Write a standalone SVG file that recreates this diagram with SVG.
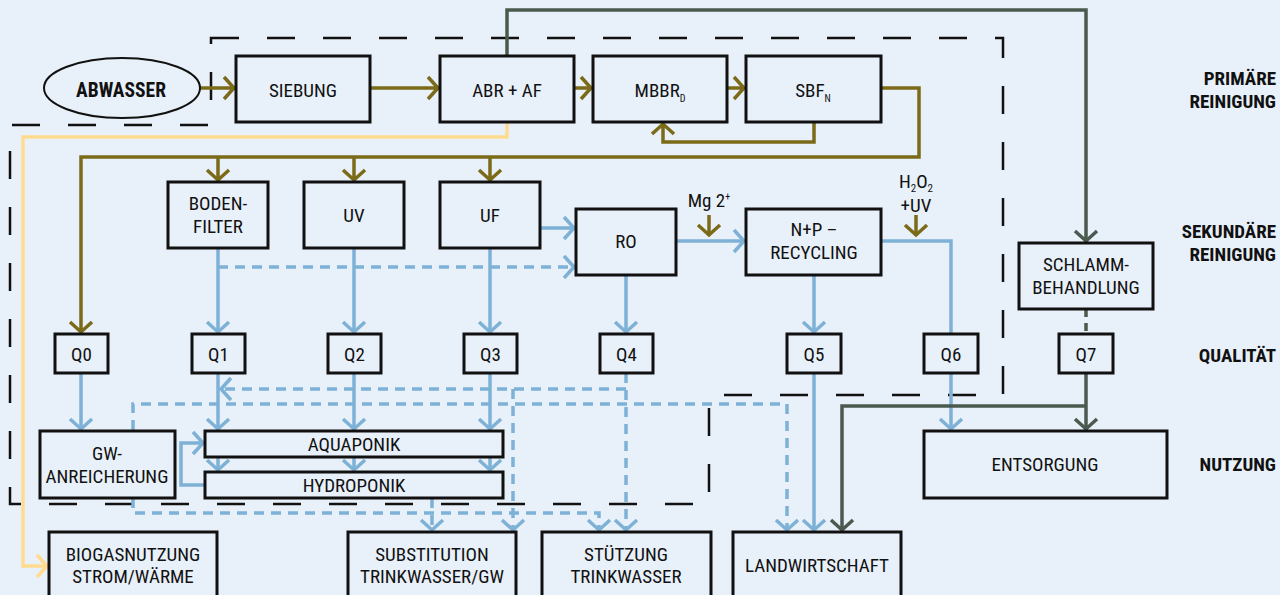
<svg xmlns="http://www.w3.org/2000/svg" width="1280" height="595" viewBox="0 0 1280 595">
<style>
text{font-family:"Roboto Condensed","Roboto","Liberation Sans",sans-serif;font-stretch:condensed;font-size:19px;fill:#111;text-anchor:middle}
.b{font-weight:bold;font-size:19.5px;font-stretch:semi-condensed}
.lbl{font-weight:bold;text-anchor:end;font-size:19px;font-stretch:semi-condensed}
.box{fill:#e8f0f9;stroke:#111;stroke-width:3}
.ol{fill:none;stroke:#7b6a18;stroke-width:3.5}
.bl{fill:none;stroke:#7eb1d6;stroke-width:3.5}
.bld{fill:none;stroke:#7eb1d6;stroke-width:3.5;stroke-dasharray:10 7}
.gr{fill:none;stroke:#4b5a4f;stroke-width:3.5}
.ye{fill:none;stroke:#ffda8f;stroke-width:3.5}
.bnd{fill:none;stroke:#111;stroke-width:2.5;stroke-dasharray:28 28}
</style>
<defs>
<marker id="aO" markerUnits="userSpaceOnUse" markerWidth="30" markerHeight="30" viewBox="-15 -15 30 30" refX="0" refY="0" orient="auto"><path d="M-11,-11 L-1,0 L-11,11" fill="none" stroke="#7b6a18" stroke-width="3.5"/></marker>
<marker id="aB" markerUnits="userSpaceOnUse" markerWidth="30" markerHeight="30" viewBox="-15 -15 30 30" refX="0" refY="0" orient="auto"><path d="M-11,-11 L-1,0 L-11,11" fill="none" stroke="#7eb1d6" stroke-width="3.5"/></marker>
<marker id="aG" markerUnits="userSpaceOnUse" markerWidth="30" markerHeight="30" viewBox="-15 -15 30 30" refX="0" refY="0" orient="auto"><path d="M-11,-11 L-1,0 L-11,11" fill="none" stroke="#4b5a4f" stroke-width="3.5"/></marker>
<marker id="aY" markerUnits="userSpaceOnUse" markerWidth="30" markerHeight="30" viewBox="-15 -15 30 30" refX="0" refY="0" orient="auto"><path d="M-11,-11 L-1,0 L-11,11" fill="none" stroke="#ffda8f" stroke-width="3.5"/></marker>
</defs>
<rect width="1280" height="595" fill="#e8f0f9"/>
<path class="bnd" d="M211,38 H1003 V395 H709 V504 H10 V125 H211 Z"/>
<g id="connectors">
<path class="ye" d="M507,122 V137 H23 V566 H48" marker-end="url(#aY)"/>
<path class="gr" d="M507,56 V10 H1086 V242" marker-end="url(#aG)"/>
<path class="ol" d="M200,88 H235" marker-end="url(#aO)"/>
<path class="ol" d="M370,88 H439" marker-end="url(#aO)"/>
<path class="ol" d="M574,88 H592" marker-end="url(#aO)"/>
<path class="ol" d="M727,88 H745" marker-end="url(#aO)"/>
<path class="ol" d="M814,122 V142 H663 V123" marker-end="url(#aO)"/>
<path class="ol" d="M881,88 H919 V157 H81 V333" marker-end="url(#aO)"/>
<path class="ol" d="M218,157 V181" marker-end="url(#aO)"/>
<path class="ol" d="M354,157 V181" marker-end="url(#aO)"/>
<path class="ol" d="M490,157 V181" marker-end="url(#aO)"/>
<path class="ol" d="M709,215 V236" marker-end="url(#aO)"/>
<path class="ol" d="M916,215 V236" marker-end="url(#aO)"/>
<path class="bl" d="M218,248 V333" marker-end="url(#aB)"/>
<path class="bl" d="M354,248 V333" marker-end="url(#aB)"/>
<path class="bl" d="M490,248 V333" marker-end="url(#aB)"/>
<path class="bl" d="M540,228 H575" marker-end="url(#aB)"/>
<path class="bld" d="M218,267 H575" marker-end="url(#aB)"/>
<path class="bl" d="M626,275 V333" marker-end="url(#aB)"/>
<path class="bl" d="M676,241 H745" marker-end="url(#aB)"/>
<path class="bl" d="M814,275 V333" marker-end="url(#aB)"/>
<path class="bl" d="M881,241 H951 V334"/>
<path class="bl" d="M81,373 V430" marker-end="url(#aB)"/>
<path class="bl" d="M218,373 V430" marker-end="url(#aB)"/>
<path class="bl" d="M354,373 V430" marker-end="url(#aB)"/>
<path class="bl" d="M490,373 V430" marker-end="url(#aB)"/>
<path class="bl" d="M218,457 V471" marker-end="url(#aB)"/>
<path class="bl" d="M354,457 V471" marker-end="url(#aB)"/>
<path class="bl" d="M490,457 V471" marker-end="url(#aB)"/>
<path class="bl" d="M205,485 H181 V443 H204" marker-end="url(#aB)"/>
<path class="bl" d="M814,373 V531" marker-end="url(#aB)"/>
<path class="bl" d="M951,373 V430" marker-end="url(#aB)"/>
<path class="bld" d="M626,373 V531" marker-end="url(#aB)"/>
<path class="bld" d="M626,389 H220" marker-end="url(#aB)"/>
<path class="bld" d="M513,389 V531" marker-end="url(#aB)"/>
<path class="bld" d="M133,430 V404 H787 V531" marker-start="url(#aB)" marker-end="url(#aB)"/>
<path class="bld" d="M133,498 V513 H599 V531" marker-end="url(#aB)"/>
<path class="bld" d="M432,498 V531" marker-end="url(#aB)"/>
<path class="gr" d="M1086,309 V334" stroke-dasharray="8 6"/>
<path class="gr" d="M1086,373 V430" marker-end="url(#aG)"/>
<path class="gr" d="M1086,406 H842 V531" marker-end="url(#aG)"/>
</g>
<g id="abwasser"><ellipse cx="122" cy="88" rx="78" ry="30" fill="#e8f0f9" stroke="#111" stroke-width="2"/><text class="b" x="121" y="97">ABWASSER</text></g>
<g id="siebung"><rect class="box" x="236" y="56" width="134" height="66"/><text x="303" y="97">SIEBUNG</text></g>
<g id="abr"><rect class="box" x="440" y="56" width="134" height="66"/><text x="507" y="97">ABR + AF</text></g>
<g id="mbbr"><rect class="box" x="593" y="56" width="134" height="66"/><text x="660" y="97">MBBR<tspan font-size="10" dy="5">D</tspan></text></g>
<g id="sbf"><rect class="box" x="746" y="56" width="135" height="66"/><text x="813" y="97">SBF<tspan font-size="10" dy="5">N</tspan></text></g>
<g id="bodenfilter"><rect class="box" x="168" y="182" width="100" height="66"/><text x="218" y="210">BODEN-</text><text x="218" y="233">FILTER</text></g>
<g id="uv"><rect class="box" x="304" y="182" width="100" height="66"/><text x="354" y="222">UV</text></g>
<g id="uf"><rect class="box" x="440" y="182" width="100" height="66"/><text x="490" y="222">UF</text></g>
<g id="ro"><rect class="box" x="576" y="209" width="100" height="66"/><text x="626" y="248">RO</text></g>
<g id="mg"><text x="709" y="207" font-size="18">Mg 2<tspan font-size="10" dy="-7">+</tspan></text></g>
<g id="nprecycling"><rect class="box" x="746" y="209" width="135" height="66"/><text x="814" y="236">N+P –</text><text x="814" y="259">RECYCLING</text></g>
<g id="h2o2"><text x="916" y="188" font-size="18">H<tspan font-size="11" dy="4">2</tspan><tspan dy="-4">O</tspan><tspan font-size="11" dy="4">2</tspan></text><text x="916" y="212" font-size="18">+UV</text></g>
<g id="schlamm"><rect class="box" x="1019" y="243" width="134" height="66"/><text x="1086" y="271">SCHLAMM-</text><text x="1086" y="294">BEHANDLUNG</text></g>
<g id="q0"><rect class="box" x="55" y="334" width="53" height="39"/><text x="81.5" y="361">Q0</text></g>
<g id="q1"><rect class="box" x="192" y="334" width="53" height="39"/><text x="218.5" y="361">Q1</text></g>
<g id="q2"><rect class="box" x="328" y="334" width="53" height="39"/><text x="354.5" y="361">Q2</text></g>
<g id="q3"><rect class="box" x="464" y="334" width="53" height="39"/><text x="490.5" y="361">Q3</text></g>
<g id="q4"><rect class="box" x="600" y="334" width="53" height="39"/><text x="626.5" y="361">Q4</text></g>
<g id="q5"><rect class="box" x="787" y="334" width="54" height="39"/><text x="814" y="361">Q5</text></g>
<g id="q6"><rect class="box" x="924" y="334" width="54" height="39"/><text x="951" y="361">Q6</text></g>
<g id="q7"><rect class="box" x="1059" y="334" width="54" height="39"/><text x="1086" y="361">Q7</text></g>
<g id="gw"><rect class="box" x="40" y="431" width="135" height="67"/><text x="107" y="460">GW-</text><text x="107" y="483">ANREICHERUNG</text></g>
<g id="aquaponik"><rect class="box" x="205" y="431" width="298" height="26"/><text x="354" y="451">AQUAPONIK</text></g>
<g id="hydroponik"><rect class="box" x="205" y="472" width="298" height="26"/><text x="354" y="492">HYDROPONIK</text></g>
<g id="entsorgung"><rect class="box" x="924" y="431" width="243" height="67"/><text x="1045" y="471">ENTSORGUNG</text></g>
<g id="biogas"><rect class="box" x="49" y="532" width="168" height="80"/><text x="133" y="561">BIOGASNUTZUNG</text><text x="133" y="583">STROM/WÄRME</text></g>
<g id="substitution"><rect class="box" x="348" y="532" width="168" height="80"/><text x="432" y="561">SUBSTITUTION</text><text x="432" y="583">TRINKWASSER/GW</text></g>
<g id="stuetzung"><rect class="box" x="542" y="532" width="169" height="80"/><text x="626" y="561">STÜTZUNG</text><text x="626" y="583">TRINKWASSER</text></g>
<g id="landwirtschaft"><rect class="box" x="733" y="532" width="168" height="80"/><text x="817" y="572">LANDWIRTSCHAFT</text></g>
<g id="labels">
<text class="lbl" x="1276" y="85">PRIMÄRE</text><text class="lbl" x="1276" y="108">REINIGUNG</text>
<text class="lbl" x="1276" y="238">SEKUNDÄRE</text><text class="lbl" x="1276" y="261">REINIGUNG</text>
<text class="lbl" x="1276" y="362">QUALITÄT</text>
<text class="lbl" x="1276" y="471">NUTZUNG</text>
</g>
</svg>
